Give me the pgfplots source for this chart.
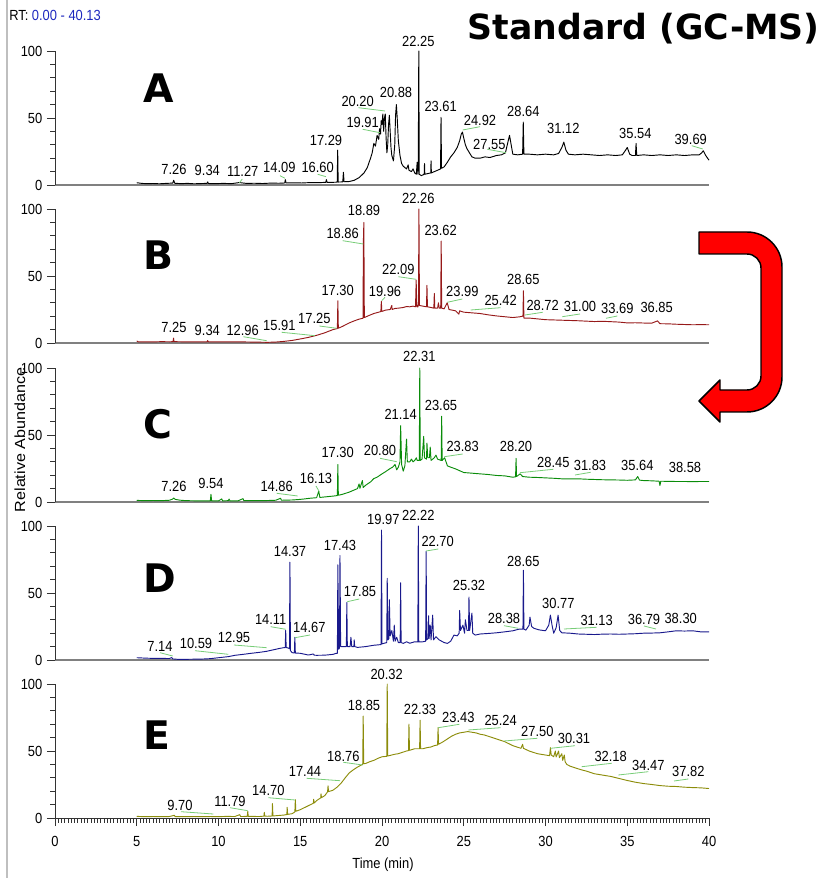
\documentclass[border=0pt]{standalone}
\usepackage{pgfplots}
\pgfplotsset{compat=1.18}
\usepackage{fontspec}
\setmainfont{Liberation Sans}
\newfontfamily\lblfont[FakeStretch=0.88]{Liberation Sans}
\newfontfamily\ylfont[FakeStretch=1.1]{Liberation Sans}
\newfontfamily\bigfont{DejaVu Sans}
\definecolor{cA}{RGB}{0,0,0}
\definecolor{cB}{RGB}{150,25,25}
\definecolor{cC}{RGB}{10,140,10}
\definecolor{cD}{RGB}{25,25,140}
\definecolor{cE}{RGB}{140,140,10}
\definecolor{leadc}{RGB}{120,205,120}
\definecolor{rtblue}{RGB}{30,40,190}
\pgfplotsset{
  chrom/.style={
    width=490.5pt, height=100.5pt, scale only axis,
    xmin=0, xmax=40, ymin=0, ymax=100,
    axis x line*=bottom, axis y line*=left,
    x axis line style={-, gray, line width=0.8pt},
    y axis line style={-, black!80, line width=0.6pt},
    ytick={0,50,100}, minor ytick={10,20,30,40,60,70,80,90},
    xtick=\empty,
    tick align=outside, major tick length=6pt, minor tick length=3.5pt,
    every tick/.style={black!80, line width=0.6pt},
    /pgf/number format/assume math mode=true,
    ticklabel style={font=\lblfont\fontsize{11}{12}\selectfont},
    clip=false,
  },
  tr/.style={line width=0.7pt, line join=round, mark=none},
}
\newcommand\pk[3]{\node[font=\lblfont\fontsize{11}{12}\selectfont, inner sep=0pt] at (#1,#2) {#3};}
\newcommand\ld[4]{\draw[leadc, line width=0.6pt] (#1,#2)--(#3,#4);}
\newcommand\pl[3]{\node[font=\bigfont\fontsize{29.5}{32}\selectfont\bfseries, anchor=base west, inner sep=0pt] at (#1,#2) {#3};}
\begin{document}
\begin{tikzpicture}
\useasboundingbox (0,0) rectangle (618pt,658.5pt);
% ---------- A ----------
\begin{axis}[chrom, at={(41.25pt,519.75pt)}, anchor=south west]
\addplot[tr, cA] coordinates {(5.00,1.7)(5.3,1.2)(5.6,1.0)(6.0,1.1)(6.4,0.9)(6.8,1.2)(7.2,1.4)(7.26,3.5)(7.32,1.3)(7.7,1.0)(8.1,1.2)(8.5,0.9)(9.0,1.1)(9.3,1.2)(9.34,2.3)(9.38,1.1)(9.8,1.0)(10.3,1.2)(10.8,1.0)(11.27,1.8)(11.7,1.2)(12.2,1.3)(12.7,1.1)(13.2,1.4)(13.7,1.3)(14.05,1.5)(14.09,4.0)(14.13,1.5)(14.6,1.6)(15.1,1.5)(15.6,1.8)(16.1,1.7)(16.56,2.0)(16.60,4.0)(16.64,2.0)(17.0,2.0)(17.26,2.1)(17.29,26)(17.32,2.2)(17.6,2.3)(17.64,9.5)(17.68,2.4)(18.0,2.6)(18.3,3.5)(18.6,5.5)(18.9,9)(19.1,13)(19.3,20)(19.4,24)(19.5,31)(19.6,29)(19.7,37)(19.8,34)(19.85,42)(19.91,38)(19.95,48)(20.0,45)(20.05,53)(20.1,40)(20.15,50)(20.2,53)(20.25,35)(20.3,24)(20.35,30)(20.4,45)(20.45,52)(20.5,40)(20.55,28)(20.6,22)(20.7,18)(20.78,30)(20.83,52)(20.88,60)(20.93,50)(21.0,33)(21.1,22)(21.2,16)(21.3,14)(21.4,13)(21.5,12)(21.6,15)(21.65,11)(21.8,10)(21.9,12)(22.0,9)(22.1,8)(22.15,17)(22.2,8)(22.22,20)(22.25,100)(22.28,8)(22.4,7)(22.5,7.5)(22.58,8)(22.6,16)(22.62,8)(22.8,8.5)(22.98,9)(23.0,18)(23.02,9)(23.2,10)(23.4,11)(23.58,12)(23.61,50.5)(23.64,12.5)(23.8,13.5)(24.0,17)(24.2,21)(24.4,24)(24.6,28)(24.75,33)(24.85,38)(24.92,39.5)(25.0,35)(25.1,30)(25.2,27)(25.35,24)(25.5,21)(25.7,20)(26.0,20)(26.3,21)(26.6,20.5)(27.0,22)(27.3,22.5)(27.55,24)(27.7,32)(27.8,37)(27.9,30)(28.0,23)(28.3,22.5)(28.6,23)(28.64,47)(28.68,23)(29.0,23)(29.5,22.5)(30.0,23)(30.5,22.5)(30.8,23.5)(31.0,28)(31.12,32)(31.25,26)(31.4,23)(31.8,22.5)(32.3,23)(32.8,22.5)(33.3,22)(33.8,22.5)(34.3,22)(34.7,22.5)(34.9,26)(35.0,28)(35.15,23)(35.3,22)(35.5,22)(35.54,31)(35.58,22)(36.0,22.5)(36.5,22)(37.0,22.5)(37.5,22)(38.0,22.5)(38.5,22)(39.0,22.5)(39.4,22.5)(39.55,24)(39.65,25.5)(39.8,22)(40.0,18.5)};
\end{axis}
% ---------- B ----------
\begin{axis}[chrom, at={(41.25pt,401.25pt)}, anchor=south west]
\addplot[tr, cB] coordinates {(5.0,1.5)(5.1,0.8)(5.5,0.9)(6.0,0.8)(6.5,1.0)(7.0,0.9)(7.22,1.0)(7.25,3.7)(7.28,1.0)(7.7,0.9)(8.2,0.9)(8.7,0.8)(9.3,0.9)(9.34,1.8)(9.38,0.9)(9.9,0.8)(10.5,0.9)(11.0,0.8)(11.5,0.8)(12.0,0.7)(12.5,0.6)(13.0,0.5)(13.5,0.7)(14.0,1.2)(14.5,1.9)(15.0,3.0)(15.5,4.2)(16.0,5.7)(16.5,7.6)(17.0,10)(17.27,10.8)(17.30,31.5)(17.33,11)(17.6,12.5)(18.0,15)(18.3,16.5)(18.6,17.8)(18.84,18.5)(18.86,75)(18.89,90)(18.92,19)(19.2,20.5)(19.5,22)(19.8,23)(19.93,23.5)(19.96,31)(19.99,23.5)(20.2,24.5)(20.5,25)(20.6,28)(20.62,25)(20.8,25.8)(21.0,26)(21.3,26.5)(21.5,27.2)(21.7,27)(21.9,27.5)(22.05,27)(22.09,47)(22.13,27)(22.2,27)(22.23,30)(22.26,100)(22.29,28)(22.5,27.5)(22.72,27)(22.75,43)(22.78,27)(23.0,26.5)(23.17,26)(23.2,37)(23.23,26)(23.4,26)(23.45,30)(23.5,26)(23.59,26)(23.62,76)(23.65,26)(23.8,25.5)(23.99,30)(24.1,25)(24.5,24)(24.7,21.5)(24.75,24)(25.0,23)(25.5,22.5)(26.0,22)(26.5,21)(27.0,20.2)(27.5,19.6)(28.0,19)(28.4,19.5)(28.62,20)(28.65,39)(28.68,18.6)(29.0,18.6)(29.5,18)(30.0,17.4)(30.5,17.2)(31.0,17)(31.5,16.8)(32.0,16.6)(32.5,16.3)(33.0,16)(33.5,16.2)(34.0,15.9)(34.5,15.6)(35.0,15)(35.5,15.1)(36.0,14.9)(36.5,14.8)(36.85,16.5)(37.0,14.4)(37.5,14.3)(38.0,14)(38.5,13.8)(39.0,13.6)(39.5,13.7)(40.0,13.6)};
\end{axis}
% ---------- C ----------
\begin{axis}[chrom, at={(41.25pt,282pt)}, anchor=south west]
\addplot[tr, cC] coordinates {(5.0,1.2)(5.5,1.0)(6.0,1.1)(6.5,1.0)(7.0,1.3)(7.2,2.2)(7.26,3.0)(7.35,2.0)(7.6,1.4)(8.0,1.0)(8.5,0.9)(9.0,0.8)(9.5,0.9)(9.54,5.7)(9.58,0.9)(10.0,0.8)(10.2,2.3)(10.25,0.8)(10.6,1.0)(10.65,2.2)(10.7,0.9)(11.2,0.9)(11.5,2.5)(11.55,1.0)(12.0,1.0)(12.5,1.0)(13.0,1.1)(13.5,1.3)(13.8,2.8)(13.85,1.3)(14.5,1.5)(14.86,1.8)(15.2,2.2)(15.6,2.8)(16.0,3.2)(16.13,8)(16.2,3.4)(16.6,3.9)(17.0,4.4)(17.27,4.8)(17.30,28)(17.33,5.0)(17.6,5.8)(18.0,7.4)(18.5,10)(18.6,13.5)(18.65,10.2)(18.8,16)(18.85,10.8)(19.0,12.5)(19.3,15)(19.5,17.5)(19.7,18.5)(20.0,21)(20.2,22.5)(20.5,25)(20.65,26)(20.80,28)(20.9,24)(21.0,26)(21.1,30)(21.14,57)(21.2,28)(21.3,23)(21.4,27)(21.5,47)(21.55,30)(21.7,30)(21.8,32)(21.9,30)(22.0,31)(22.1,33)(22.15,31)(22.28,31)(22.31,100)(22.34,31)(22.45,32)(22.55,49)(22.6,33)(22.72,32)(22.75,44)(22.8,33)(22.9,33)(22.95,41)(23.0,31)(23.2,33)(23.3,35)(23.4,32)(23.62,31)(23.65,64)(23.68,31)(23.83,33)(24.0,27)(24.2,26)(24.5,24.7)(25.0,22)(25.5,21.5)(26.0,21)(26.5,20.5)(27.0,19.8)(27.5,19.5)(28.0,18.5)(28.17,18.8)(28.20,32.6)(28.23,19)(28.45,21)(28.6,19)(29.0,18.5)(29.5,18.3)(30.0,18)(30.5,17.7)(31.0,17.3)(31.5,17.3)(32.0,17.3)(32.5,17)(33.0,16.8)(33.5,16.6)(34.0,16.5)(34.5,16.4)(35.0,16.2)(35.5,16.5)(35.64,19)(35.75,16.3)(36.0,16)(36.5,15.8)(36.95,15.5)(37.0,12.3)(37.05,15.5)(37.5,15.4)(38.0,15.3)(38.5,15.3)(39.0,15.2)(39.5,15.3)(40.0,15.3)};
\end{axis}
% ---------- D ----------
\begin{axis}[chrom, at={(41.25pt,163.5pt)}, anchor=south west]
\addplot[tr, cD] coordinates {(5.0,1.7)(5.5,1.4)(6.0,1.2)(6.5,1.2)(7.0,1.1)(7.14,1.8)(7.2,0.8)(7.5,0.5)(8.0,0.5)(8.5,0.6)(9.0,0.7)(9.5,1.0)(10.0,1.7)(10.59,2.5)(11.0,3.5)(11.5,4.2)(12.0,5.0)(12.5,5.7)(12.95,6.5)(13.5,8.0)(13.8,8.8)(14.0,9.2)(14.08,9.3)(14.11,22)(14.14,9.3)(14.25,9.0)(14.34,8.5)(14.37,73)(14.40,7)(14.5,5.5)(14.64,5.2)(14.67,17)(14.70,5.2)(15.0,5.0)(15.5,3.7)(15.8,4.5)(15.85,3.6)(16.0,3.5)(16.5,3.6)(17.0,4.2)(17.2,5)(17.27,5)(17.30,71)(17.35,8)(17.40,9)(17.43,78)(17.47,10)(17.55,10)(17.82,10)(17.85,43)(17.88,10)(18.05,10)(18.1,17)(18.15,10)(18.28,10)(18.3,15)(18.33,10)(18.5,9.4)(19.0,10)(19.5,11)(19.94,11.5)(19.97,97)(20.0,12)(20.1,12.4)(20.29,13)(20.32,61)(20.36,15)(20.42,16)(20.45,45)(20.5,18)(20.6,22)(20.7,14)(20.75,26)(20.8,14)(20.9,17)(21.0,13)(21.11,13)(21.14,57.6)(21.17,13)(21.3,12.4)(21.5,13.6)(21.7,12.5)(22.0,13.6)(22.19,13.5)(22.22,100)(22.25,13.5)(22.5,13.6)(22.67,14)(22.70,81)(22.73,15)(22.82,16)(22.85,33)(22.88,16)(22.95,26)(23.0,15)(23.1,33.5)(23.15,15)(23.3,17.4)(23.5,15)(23.8,13)(24.0,12.4)(24.2,14)(24.4,18.6)(24.6,18)(24.72,20)(24.75,37)(24.8,22)(24.95,26)(25.05,20)(25.1,30)(25.2,22)(25.29,22)(25.32,47)(25.36,22)(25.5,35)(25.55,20)(25.7,18.6)(26.0,19.4)(26.5,19.8)(27.0,20.3)(27.5,21)(28.0,21.8)(28.38,23)(28.62,23)(28.65,67)(28.68,23)(28.8,22.3)(29.0,26)(29.05,32)(29.15,25)(29.3,23.6)(29.6,22.5)(30.0,21.8)(30.2,26)(30.3,33.5)(30.4,26)(30.5,20)(30.65,24)(30.77,33.5)(30.87,22)(31.0,20.3)(31.5,20)(32.0,19.4)(32.5,19.2)(33.0,19)(33.5,19.3)(34.0,19.4)(34.5,19.2)(35.0,19.4)(35.5,19.6)(36.0,20)(36.5,20.1)(37.0,20.3)(37.5,21)(38.0,21.8)(38.5,21.6)(39.0,21.8)(39.5,21)(40.0,21)};
\end{axis}
% ---------- E ----------
\begin{axis}[chrom, at={(41.25pt,45pt)}, anchor=south west,
  x axis line style={-, black!80, line width=0.6pt},
  xtick={0,5,...,40}, minor x tick num=24,
  xticklabel style={yshift=-4pt}]
\addplot[tr, cE] coordinates {(5.0,1.2)(5.5,1.0)(6.0,1.1)(6.5,1.0)(7.0,1.1)(7.3,2.0)(7.35,1.0)(8.0,1.0)(8.5,1.1)(9.0,1.0)(9.5,1.1)(10.0,1.0)(10.5,1.2)(11.0,1.1)(11.3,2.5)(11.35,1.1)(11.76,1.2)(11.79,5)(11.82,1.2)(12.0,1.2)(12.5,1.1)(12.78,1.4)(12.8,4.2)(12.83,1.4)(13.0,1.3)(13.28,1.5)(13.3,10.7)(13.33,1.5)(13.5,1.7)(14.0,2.2)(14.18,2.6)(14.2,8)(14.23,2.7)(14.5,3.2)(14.67,4.5)(14.70,13.7)(14.73,5)(15.0,6.2)(15.5,9.2)(15.8,11)(15.82,14)(15.85,11.2)(16.0,13)(16.25,15)(16.27,18)(16.3,15.2)(16.5,16.7)(16.67,19.5)(16.7,24)(16.73,19.7)(17.0,20.7)(17.25,23)(17.5,26)(17.75,30)(18.0,33.7)(18.25,36)(18.5,38)(18.76,39.7)(18.82,40)(18.85,76)(18.88,40.5)(19.0,40.7)(19.25,42)(19.5,43)(19.75,44.5)(20.0,45.7)(20.29,46)(20.32,100)(20.35,46.3)(20.5,46.7)(20.75,47.5)(21.0,48)(21.25,49)(21.5,50)(21.62,50.3)(21.65,70)(21.68,50.5)(22.0,51.7)(22.3,51.7)(22.33,73)(22.36,51.7)(22.5,51.7)(22.75,52.5)(23.0,53)(23.2,54)(23.4,54.5)(23.43,67.5)(23.46,55)(23.75,57)(24.0,59)(24.25,61)(24.5,62.5)(24.75,63.5)(25.0,64)(25.24,64.5)(25.5,64)(25.75,63.5)(26.0,62.5)(26.25,62)(26.5,61)(26.75,60)(27.0,59)(27.25,58)(27.5,57)(27.75,55.5)(28.0,54)(28.25,53)(28.5,52)(28.6,55)(28.65,52)(29.0,50)(29.5,48)(30.0,47)(30.25,46.5)(30.3,52.5)(30.35,47)(30.5,45.7)(30.6,50)(30.65,45.5)(30.8,50)(30.85,45)(31.0,48)(31.05,43)(31.15,47)(31.2,42)(31.3,40)(31.5,38.7)(32.0,36.7)(32.18,36)(32.5,35)(33.0,33)(33.5,32)(34.0,31)(34.5,29.5)(35.0,28)(35.5,26.7)(36.0,25.7)(36.5,25)(37.0,24.2)(37.5,23.7)(37.82,23.6)(38.0,23.5)(38.5,23)(39.0,22.7)(39.5,22.5)(40.0,22)};
\end{axis}
% ---------- annotations (pixel coordinates) ----------
\begin{scope}[x=0.75pt, y=-0.75pt, shift={(0pt,658.5pt)}]
\draw[gray!50, line width=0.8pt] (7,0)--(7,878);
\node[font=\lblfont\fontsize{11}{12}\selectfont, anchor=west, inner sep=0pt] at (9,15) {RT: \textcolor{rtblue}{0.00 - 40.13}};
\node[font=\bigfont\fontsize{26}{30}\selectfont\bfseries, anchor=base east, inner sep=0pt] at (820,40) {Standard (GC-MS)};
\node[font=\ylfont\fontsize{11}{12}\selectfont, rotate=90, inner sep=0pt] at (20,440) {Relative Abundance};
\node[font=\lblfont\fontsize{11}{12}\selectfont, inner sep=0pt] at (383,865) {Time (min)};
\pl{143}{103}{A}
\pl{143}{270}{B}
\pl{143}{439}{C}
\pl{143}{593}{D}
\pl{143}{750}{E}
% arrow
\draw[fill=red, draw=black, line width=1.1pt, line join=round]
 (699,232) -- (747,232) .. controls (766.3,232) and (782,247.7) .. (782,267) -- (782,377)
 .. controls (782,396.3) and (766.3,412) .. (747,412) -- (720,412) -- (720,422) -- (699,401)
 -- (720,380) -- (720,390) -- (747,390) .. controls (754.7,390) and (761,383.7) .. (761,376)
 -- (761,268) .. controls (761,260.3) and (754.7,254) .. (747,254) -- (699,254) -- cycle;
% A labels
\pk{174}{169}{7.26}\pk{207.3}{170}{9.34}\pk{242.7}{171.7}{11.27}\pk{279.3}{167.7}{14.09}
\pk{317.7}{167.7}{16.60}\pk{326}{140}{17.29}\pk{357.7}{101}{20.20}\pk{362.7}{122.7}{19.91}
\pk{396}{92.7}{20.88}\pk{418.3}{41}{22.25}\pk{440.7}{106}{23.61}\pk{480}{120}{24.92}
\pk{489.3}{144}{27.55}\pk{523.3}{111.7}{28.64}\pk{563.3}{128.3}{31.12}\pk{635.3}{133.3}{35.54}
\pk{690.7}{139}{39.69}
\ld{239.3}{183}{242.3}{179}\ld{280}{175.7}{285}{178.3}\ld{317.7}{174.3}{326}{176.7}
\ld{358.3}{107.7}{385}{111}\ld{362.7}{129.3}{380}{132.7}\ld{462.7}{130}{480}{126.7}
\ld{487.3}{149.3}{506}{152.7}\ld{691.7}{145.7}{702.7}{149}
% B labels
\pk{174}{327.3}{7.25}\pk{207.3}{330}{9.34}\pk{242.7}{330}{12.96}\pk{279.3}{325}{15.91}
\pk{314.3}{318.3}{17.25}\pk{337.7}{290}{17.30}\pk{342.7}{233.3}{18.86}\pk{364}{210.7}{18.89}
\pk{385}{291}{19.96}\pk{398.3}{269}{22.09}\pk{418.3}{198.3}{22.26}\pk{440.7}{230.7}{23.62}
\pk{462.3}{291.7}{23.99}\pk{500.7}{300.7}{25.42}\pk{523.3}{279.3}{28.65}\pk{542.7}{305}{28.72}
\pk{580}{306.7}{31.00}\pk{617.3}{308.3}{33.69}\pk{656.7}{307.3}{36.85}
\ld{243.3}{336.7}{266.7}{340.7}\ld{281.7}{332.3}{315}{335.7}\ld{319.3}{326}{336.7}{328.3}
\ld{342.7}{240.7}{363.3}{244}\ld{381.7}{300.7}{385}{297.3}\ld{398.3}{276.7}{416}{279.3}
\ld{447.3}{302.3}{462.3}{299}\ld{470.7}{310}{500.7}{307.7}\ld{525}{315}{542.7}{312.3}
\ld{562.3}{316.7}{580}{314}\ld{606}{318.3}{617.3}{316}
% C labels
\pk{174}{486}{7.26}\pk{211}{483.3}{9.54}\pk{276.7}{486}{14.86}\pk{316}{478.3}{16.13}
\pk{337.7}{452.7}{17.30}\pk{380}{450}{20.80}\pk{400.7}{414}{21.14}\pk{419.3}{356}{22.31}
\pk{441}{405.7}{23.65}\pk{462.7}{446.7}{23.83}\pk{516}{446.7}{28.20}\pk{553.3}{462.7}{28.45}
\pk{590}{465}{31.83}\pk{637.3}{465}{35.64}\pk{685}{467.3}{38.58}
\ld{276.7}{493.3}{297.7}{496}\ld{316}{486}{319.3}{491.7}\ld{380}{458.3}{396.7}{461.7}
\ld{444.3}{456.7}{462.7}{454}\ld{520}{472.7}{553.3}{469.3}\ld{575}{475}{590.7}{472.3}
% D labels
\pk{160}{646}{7.14}\pk{196}{643.3}{10.59}\pk{234}{637.3}{12.95}\pk{270.7}{619.3}{14.11}
\pk{290}{551.7}{14.37}\pk{309.3}{627.3}{14.67}\pk{340}{545}{17.43}\pk{360}{591.7}{17.85}
\pk{383.3}{519.3}{19.97}\pk{418.3}{515}{22.22}\pk{437.7}{541.7}{22.70}\pk{469}{585}{25.32}
\pk{504}{618.3}{28.38}\pk{523.3}{561.7}{28.65}\pk{558.3}{603.3}{30.77}\pk{596.7}{620.7}{31.13}
\pk{644}{619.3}{36.79}\pk{680.7}{618.3}{38.30}
\ld{160}{652.7}{172.7}{656}\ld{195}{650.7}{228.3}{654.3}\ld{234}{645}{266.7}{647.7}
\ld{270.7}{626.7}{285.7}{629.3}\ld{295}{637.7}{310}{635}\ld{347.3}{601.7}{359.3}{599}
\ld{426}{551}{438.3}{549}\ld{504}{625.7}{518.3}{628.3}\ld{564}{629}{596.7}{627.3}
\ld{644}{626}{656}{629}
% E labels
\pk{180}{805}{9.70}\pk{230}{801}{11.79}\pk{268.3}{790}{14.70}\pk{305}{771}{17.44}
\pk{343.3}{756}{18.76}\pk{364}{705}{18.85}\pk{386.7}{674}{20.32}\pk{420}{709.3}{22.33}
\pk{458.3}{717.3}{23.43}\pk{500.7}{720.7}{25.24}\pk{537.3}{731.7}{27.50}\pk{574}{738.3}{30.31}
\pk{610.7}{756}{32.18}\pk{648.3}{765}{34.47}\pk{688.3}{771.7}{37.82}
\ld{181}{811.7}{213.3}{814}\ld{230}{807.7}{247.7}{810.7}\ld{268.3}{797.7}{295}{800}
\ld{306.7}{778.3}{340}{780.7}\ld{343.3}{762.3}{362.7}{765}\ld{438.3}{727.7}{459.3}{724.3}
\ld{468.3}{730}{500.7}{727.7}\ld{504}{741}{537.3}{738.3}\ld{550.7}{748.3}{575}{745.7}
\ld{581.7}{766.7}{611.7}{763.3}\ld{618.3}{775}{648.3}{771.7}\ld{674}{781}{688.3}{779}
\end{scope}
\end{tikzpicture}
\end{document}
